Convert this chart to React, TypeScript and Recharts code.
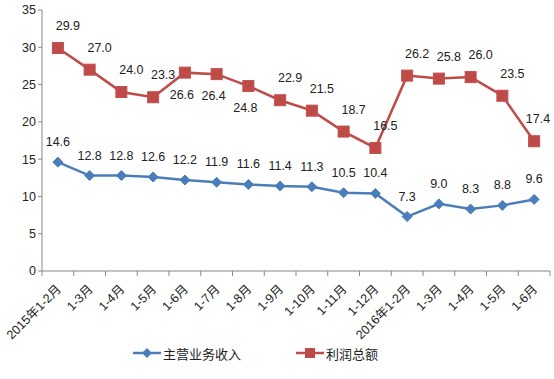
import React from 'react';
import { LineChart, Line, XAxis, YAxis, Legend } from 'recharts';

const categories = [
  '2015年1-2月', '1-3月', '1-4月', '1-5月', '1-6月', '1-7月', '1-8月', '1-9月',
  '1-10月', '1-11月', '1-12月', '2016年1-2月', '1-3月', '1-4月', '1-5月', '1-6月',
];
const revenue = [14.6, 12.8, 12.8, 12.6, 12.2, 11.9, 11.6, 11.4, 11.3, 10.5, 10.4, 7.3, 9.0, 8.3, 8.8, 9.6];
const profit = [29.9, 27.0, 24.0, 23.3, 26.6, 26.4, 24.8, 22.9, 21.5, 18.7, 16.5, 26.2, 25.8, 26.0, 23.5, 17.4];
const yTicks = [0, 5, 10, 15, 20, 25, 30, 35];

const data = categories.map((name, i) => ({ name, revenue: revenue[i], profit: profit[i] }));

const BLUE = '#4A7EBB';
const RED = '#BE4B48';
const FONT = '"Liberation Sans", "Noto Sans CJK SC", sans-serif';

const W = 554;
const H = 379;
const M = { top: 10, right: 4, left: 0, bottom: 14 };
const Y_W = 42;
const halfBand = (W - M.left - M.right - Y_W) / categories.length / 2;

// profit labels that sit under the point in the original
const profitBelow = [4, 5, 6];

const XTick = (props: any) => {
  const { x, y, payload, index } = props;
  const last = index === categories.length - 1;
  const tx = x + 4;
  const ty = y + 11;
  return (
    <g>
      <line x1={x - halfBand} x2={x - halfBand} y1={y - 8} y2={y - 3} stroke="#868686" />
      {last && <line x1={x + halfBand} x2={x + halfBand} y1={y - 8} y2={y - 3} stroke="#868686" />}
      <text
        x={tx}
        y={ty}
        transform={`rotate(-45 ${tx} ${ty})`}
        textAnchor="end"
        fontSize={12.5}
        fontFamily={FONT}
        fill="#222"
      >
        {payload.value}
      </text>
    </g>
  );
};

const profitLabel = (props: any) => {
  const { x, y, value, index } = props;
  const below = profitBelow.includes(index);
  // keep the labels inside the picture near the right edge
  const lx = Math.min(x + (below ? -3 : 10), W - 16);
  return (
    <text
      x={lx}
      y={y + (below ? 22 : -22)}
      textAnchor="middle"
      dominantBaseline="central"
      fontSize={12.5}
      fontFamily={FONT}
      fill="#222"
    >
      {Number(value).toFixed(1)}
    </text>
  );
};

const revenueLabel = (props: any) => {
  const { x, y, value } = props;
  return (
    <text
      x={x}
      y={y - 20}
      textAnchor="middle"
      dominantBaseline="central"
      fontSize={12.5}
      fontFamily={FONT}
      fill="#222"
    >
      {Number(value).toFixed(1)}
    </text>
  );
};

const Diamond = (props: any) => {
  const { cx, cy } = props;
  if (cx == null || cy == null) return null;
  const r = 5;
  return <path d={`M${cx},${cy - r}L${cx + r},${cy}L${cx},${cy + r}L${cx - r},${cy}Z`} fill={BLUE} stroke={BLUE} />;
};

const Square = (props: any) => {
  const { cx, cy } = props;
  if (cx == null || cy == null) return null;
  const s = 5.5;
  return <rect x={cx - s} y={cy - s} width={s * 2} height={s * 2} fill={RED} stroke="#C0504D" />;
};

const LegendBox = () => (
  <div style={{ display: 'flex', alignItems: 'center', height: 24, paddingLeft: 133, fontFamily: FONT, fontSize: 13, color: '#222' }}>
    <svg width={30} height={12}>
      <line x1={0} x2={28} y1={6} y2={6} stroke={BLUE} strokeWidth={2.5} />
      <path d="M14,1L19,6L14,11L9,6Z" fill={BLUE} />
    </svg>
    <span>主营业务收入</span>
    <svg width={30} height={12} style={{ marginLeft: 55 }}>
      <line x1={0} x2={28} y1={6} y2={6} stroke={RED} strokeWidth={2.5} />
      <rect x={9} y={1} width={10} height={10} fill={RED} />
    </svg>
    <span>利润总额</span>
  </div>
);

export default function App() {
  return (
    <div style={{ position: 'absolute', left: 0, top: 0, width: W, height: H, background: '#fff' }}>
      <LineChart width={W} height={H} data={data} margin={M}>
        <XAxis
          dataKey="name"
          height={70}
          interval={0}
          padding={{ left: halfBand, right: halfBand }}
          tickLine={false}
          axisLine={{ stroke: '#868686' }}
          tick={<XTick />}
        />
        <YAxis
          width={Y_W}
          domain={[0, 35]}
          ticks={yTicks}
          tickSize={4}
          tickLine={{ stroke: '#868686' }}
          axisLine={{ stroke: '#868686' }}
          tick={{ fontSize: 12.5, fontFamily: FONT, fill: '#222' }}
        />
        <Legend verticalAlign="bottom" height={24} content={<LegendBox />} wrapperStyle={{ left: 0, width: W }} />
        <Line
          dataKey="revenue"
          stroke={BLUE}
          strokeWidth={2.5}
          dot={<Diamond />}
          activeDot={false}
          label={revenueLabel}
          isAnimationActive={false}
        />
        <Line
          dataKey="profit"
          stroke={RED}
          strokeWidth={2.5}
          dot={<Square />}
          activeDot={false}
          label={profitLabel}
          isAnimationActive={false}
        />
      </LineChart>
    </div>
  );
}
